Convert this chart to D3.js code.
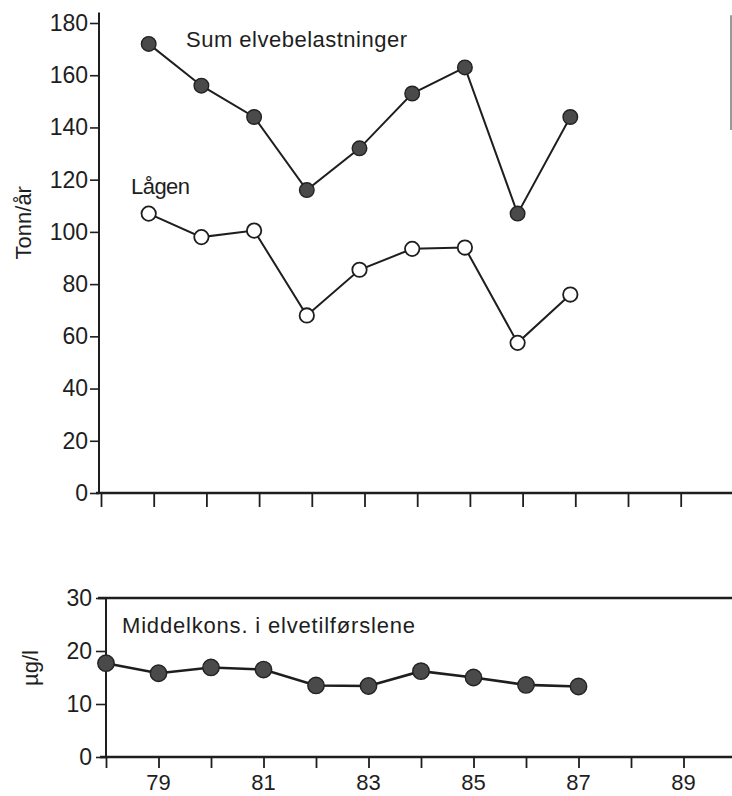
<!DOCTYPE html>
<html>
<head>
<meta charset="utf-8">
<script src="https://cdn.jsdelivr.net/npm/d3@7"></script>
<style>
  html, body { margin: 0; padding: 0; background: #fff; }
  svg { display: block; }
  text { font-family: "Liberation Sans", Arial, Helvetica, sans-serif; fill: #1e1e1e; }
</style>
</head>
<body>
<svg id="chart" width="732" height="796"></svg>
<script>
// ---------- data ----------
const loadYears   = [79, 80, 81, 82, 83, 84, 85, 86, 87];
const sumLoad     = [172, 156, 144, 116, 132, 153, 163, 107, 144];   // Sum elvebelastninger (tonn/år)
const lagenLoad   = [107, 98, 100.5, 68, 85.5, 93.5, 94, 57.5, 76];  // Lågen (tonn/år)
const concYears   = [78, 79, 80, 81, 82, 83, 84, 85, 86, 87];
const meanConc    = [17.7, 15.8, 16.9, 16.5, 13.5, 13.4, 16.2, 15.0, 13.6, 13.3]; // µg/l
const tickYears   = [78, 79, 80, 81, 82, 83, 84, 85, 86, 87, 88, 89];
const yearLabels  = [79, 81, 83, 85, 87, 89];
const topYTicks   = [0, 20, 40, 60, 80, 100, 120, 140, 160, 180];
const botYTicks   = [0, 10, 20, 30];

const svg = d3.select("#chart");
const ink = "#1e1e1e";

// ---------- scales ----------
const xTop = d3.scaleLinear().domain([78, 89]).range([101, 680.7]);
const yTop = d3.scaleLinear().domain([0, 180]).range([493, 23]);
const xBot = d3.scaleLinear().domain([78, 89]).range([106, 683.5]);
const yBot = d3.scaleLinear().domain([0, 30]).range([757, 598]);

// ---------- top panel axes ----------
const gTopY = svg.append("g").attr("transform", `translate(${xTop(78) - 2},0)`)
  .call(d3.axisLeft(yTop).tickValues(topYTicks).tickSize(9).tickPadding(2));
gTopY.select(".domain").remove();
gTopY.selectAll(".tick line").attr("stroke", ink).attr("stroke-width", 1.6);
gTopY.selectAll(".tick text").style("font-size", "23px").attr("fill", ink);

svg.append("line")
  .attr("x1", xTop(78) - 2).attr("x2", xTop(78) - 2)
  .attr("y1", yTop(0)).attr("y2", yTop(184))
  .attr("stroke", ink).attr("stroke-width", 2);

const gTopX = svg.append("g").attr("transform", `translate(0,${yTop(0)})`)
  .call(d3.axisBottom(xTop).tickValues(tickYears).tickSize(14).tickFormat(""));
gTopX.select(".domain").remove();
gTopX.selectAll(".tick line").attr("stroke", ink).attr("stroke-width", 1.8);
svg.append("line")
  .attr("x1", xTop(78) - 5).attr("x2", 732)
  .attr("y1", yTop(0)).attr("y2", yTop(0))
  .attr("stroke", ink).attr("stroke-width", 2.4);

// right edge fragment of frame
svg.append("line")
  .attr("x1", 731).attr("x2", 731)
  .attr("y1", yTop(183)).attr("y2", yTop(139))
  .attr("stroke", "#777").attr("stroke-width", 1.5);

svg.append("text")
  .attr("transform", `translate(31,${(yTop(119) + yTop(88)) / 2}) rotate(-90)`)
  .attr("text-anchor", "middle")
  .style("font-size", "22px")
  .text("Tonn/år");

// ---------- top panel series ----------
const topMarks = svg.append("g").attr("transform", "translate(-5,0)");

const sumPts = loadYears.map((yr, i) => ({ yr, v: sumLoad[i] }));
const lagPts = loadYears.map((yr, i) => ({ yr, v: lagenLoad[i] }));
const topLine = d3.line().x(d => xTop(d.yr)).y(d => yTop(d.v));

topMarks.append("path").datum(sumPts).attr("d", topLine)
  .attr("fill", "none").attr("stroke", ink).attr("stroke-width", 2);
topMarks.append("path").datum(lagPts).attr("d", topLine)
  .attr("fill", "none").attr("stroke", ink).attr("stroke-width", 2);

topMarks.selectAll("circle.sum").data(sumPts).join("circle")
  .attr("class", "sum")
  .attr("cx", d => xTop(d.yr)).attr("cy", d => yTop(d.v)).attr("r", 7.3)
  .attr("fill", "#4a4a4a").attr("stroke", "#222").attr("stroke-width", 1.4);
topMarks.selectAll("circle.lag").data(lagPts).join("circle")
  .attr("class", "lag")
  .attr("cx", d => xTop(d.yr)).attr("cy", d => yTop(d.v)).attr("r", 7.2)
  .attr("fill", "#fff").attr("stroke", ink).attr("stroke-width", 1.8);

svg.append("text")
  .attr("x", 186).attr("y", 47)
  .attr("textLength", 221).attr("lengthAdjust", "spacing")
  .style("font-size", "22px")
  .text("Sum elvebelastninger");
svg.append("text")
  .attr("x", 131).attr("y", 194)
  .attr("textLength", 59).attr("lengthAdjust", "spacing")
  .style("font-size", "22px")
  .text("Lågen");

// ---------- bottom panel axes ----------
const gBotY = svg.append("g").attr("transform", `translate(${xBot(78)},0)`)
  .call(d3.axisLeft(yBot).tickValues(botYTicks).tickSize(10).tickPadding(4));
gBotY.select(".domain").remove();
gBotY.selectAll(".tick line").attr("stroke", ink).attr("stroke-width", 1.6);
gBotY.selectAll(".tick text").style("font-size", "23px").attr("fill", ink);

svg.append("line")
  .attr("x1", xBot(78)).attr("x2", xBot(78))
  .attr("y1", yBot(0)).attr("y2", yBot(30))
  .attr("stroke", ink).attr("stroke-width", 2);
svg.append("line")
  .attr("x1", xBot(78) - 8).attr("x2", 732)
  .attr("y1", yBot(30)).attr("y2", yBot(30))
  .attr("stroke", ink).attr("stroke-width", 2.4);
svg.append("line")
  .attr("x1", xBot(78) - 6).attr("x2", 732)
  .attr("y1", yBot(0)).attr("y2", yBot(0))
  .attr("stroke", ink).attr("stroke-width", 2.4);

const gBotX = svg.append("g").attr("transform", `translate(0,${yBot(0)})`)
  .call(d3.axisBottom(xBot).tickValues(tickYears).tickSize(11).tickFormat(""));
gBotX.select(".domain").remove();
gBotX.selectAll(".tick line").attr("stroke", ink).attr("stroke-width", 1.8);

svg.append("g").selectAll("text").data(yearLabels).join("text")
  .attr("x", d => xBot(d)).attr("y", 790)
  .attr("text-anchor", "middle")
  .style("font-size", "22px")
  .text(d => d);

svg.append("text")
  .attr("transform", `translate(38,${yBot(16.8)}) rotate(-90)`)
  .attr("text-anchor", "middle")
  .style("font-size", "22px")
  .text("µg/l");

// ---------- bottom panel series ----------
const concPts = concYears.map((yr, i) => ({ yr, v: meanConc[i] }));
const botLine = d3.line().x(d => xBot(d.yr)).y(d => yBot(d.v));
svg.append("path").datum(concPts).attr("d", botLine)
  .attr("fill", "none").attr("stroke", ink).attr("stroke-width", 2.6);
svg.selectAll("circle.conc").data(concPts).join("circle")
  .attr("class", "conc")
  .attr("cx", d => xBot(d.yr)).attr("cy", d => yBot(d.v)).attr("r", 8.2)
  .attr("fill", "#4a4a4a").attr("stroke", "#222").attr("stroke-width", 1.4);

svg.append("text")
  .attr("x", 122).attr("y", 633)
  .attr("textLength", 293).attr("lengthAdjust", "spacing")
  .style("font-size", "22px")
  .text("Middelkons. i elvetilførslene");
</script>
</body>
</html>
